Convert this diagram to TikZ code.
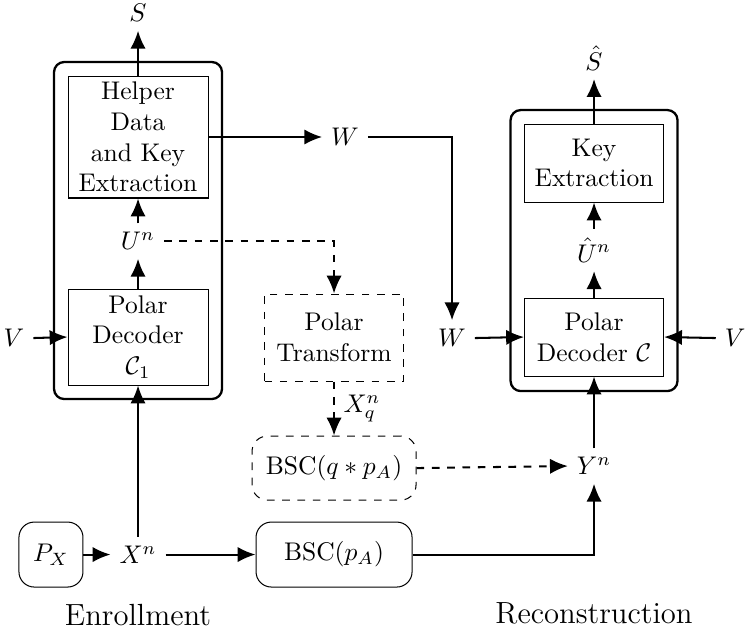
\documentclass[tikz,border=0pt]{standalone}
\usetikzlibrary{arrows.meta}
\begin{document}
\begin{tikzpicture}[
  >={Latex[length=7pt,width=6pt]},
  blockbox/.style={draw, align=center, inner sep=0pt},
  outerbox/.style={draw, line width=0.9pt, rounded corners=4pt, inner sep=0pt},
  chanbox/.style={draw, rounded corners=6pt, inner sep=0pt},
  link/.style={thick, ->},
  dlink/.style={thick, dashed, ->}
]
\useasboundingbox (0,0) rectangle (10.275,8.802);

% Enrollment side
\node[outerbox, minimum width=2.314cm, minimum height=4.642cm] (enc) at (1.901, 5.627) {};
\node[blockbox, minimum width=1.928cm, minimum height=1.680cm] (helper) at (1.901, 6.915) {Helper\\Data\\and Key\\Extraction};
\node[blockbox, minimum width=1.928cm, minimum height=1.322cm] (dec1) at (1.901, 4.160) {Polar\\Decoder\\$\mathcal{C}_1$};
\node (S) at (1.901, 8.623) {$S$};
\node (Un) at (1.901, 5.482) {$U^n$};
\node (V1) at (0.193, 4.146) {$V$};
\node[chanbox, minimum width=0.882cm, minimum height=0.895cm] (PX) at (0.702, 1.164) {$P_X$};
\node (Xn) at (1.901, 1.164) {$X^n$};
\node[font=\large] (enroll) at (1.901, 0.331) {Enrollment};

% Middle column
\node (W1) at (4.752, 6.915) {$W$};
\node (W2) at (6.226, 4.146) {$W$};
\node[blockbox, dashed, minimum width=1.915cm, minimum height=1.198cm] (ptrans) at (4.601, 4.153) {Polar\\Transform};
\node[chanbox, dashed, minimum width=2.259cm, minimum height=0.882cm] (bscq) at (4.601, 2.355) {BSC$(q*p_A)$};
\node[chanbox, minimum width=2.149cm, minimum height=0.895cm] (bsc) at (4.601, 1.164) {BSC$(p_A)$};

% Reconstruction side
\node[outerbox, minimum width=2.300cm, minimum height=3.871cm] (rec) at (8.182, 5.351) {};
\node[blockbox, minimum width=1.915cm, minimum height=1.074cm] (keyex) at (8.182, 6.556) {Key\\Extraction};
\node[blockbox, minimum width=1.915cm, minimum height=1.074cm] (dec) at (8.182, 4.160) {Polar\\Decoder $\mathcal{C}$};
\node (Shat) at (8.182, 8.003) {$\hat{S}$};
\node (Uhat) at (8.182, 5.358) {$\hat{U}^n$};
\node (V2) at (10.124, 4.146) {$V$};
\node (Yn) at (8.182, 2.383) {$Y^n$};
\node[font=\large] (recon) at (8.182, 0.358) {Reconstruction};

% Connectors
\draw[link] (helper.north) -- (S.south);
\draw[link] (Un.north) -- (helper.south);
\draw[link] (dec1.north) -- (Un.south);
\draw[link] (V1.east) -- (dec1.west);
\draw[link] (PX.east) -- (Xn.west);
\draw[link] (Xn.north) -- (dec1.south);
\draw[link] (Xn.east) -- (bsc.west);
\draw[link] (helper.east |- W1) -- (W1.west);
\draw[link] (W1.east) -| (W2.north);
\draw[link] (W2.east) -- (dec.west);
\draw[link] (V2.west) -- (dec.east);
\draw[link] (bsc.east) -| (Yn.south);
\draw[link] (Yn.north) -- (dec.south);
\draw[link] (dec.north) -- (Uhat.south);
\draw[link] (Uhat.north) -- (keyex.south);
\draw[link] (keyex.north) -- (Shat.south);
\draw[dlink] (Un.east) -| (ptrans.north);
\draw[dlink] (ptrans.south) -- node[right] {$X_q^n$} (bscq.north);
\draw[dlink] (bscq.east) -- (Yn.west);
\end{tikzpicture}
\end{document}
